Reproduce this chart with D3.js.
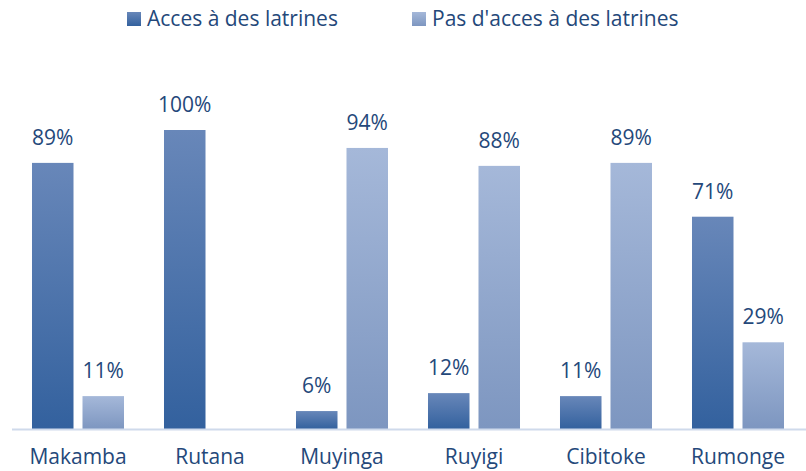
<!DOCTYPE html>
<html>
<head>
<meta charset="utf-8">
<script src="https://cdn.jsdelivr.net/npm/d3@7"></script>
<style>
  body { margin: 0; background: #fff; }
  text { font-family: "Open Sans", sans-serif; fill: #24487a; }
</style>
</head>
<body>
<svg id="chart" width="806" height="471"></svg>
<script>
var provinces = ["Makamba", "Rutana", "Muyinga", "Ruyigi", "Cibitoke", "Rumonge"];
var series = ["Acces à des latrines", "Pas d'acces à des latrines"];
var acces = [89, 100, 6, 12, 11, 71];
var pasAcces = [11, null, 94, 88, 89, 29];

var width = 806, height = 471;
var svg = d3.select("#chart");

// gradients, one per series (top lighter, bottom darker)
var defs = svg.append("defs");
var grads = [["g0", "#6887b9", "#33619e"], ["g1", "#a5b8d9", "#7d96c0"]];
grads.forEach(function(g) {
  var lg = defs.append("linearGradient").attr("id", g[0])
      .attr("x1", 0).attr("y1", 0).attr("x2", 0).attr("y2", 1);
  lg.append("stop").attr("offset", "0%").attr("stop-color", g[1]);
  lg.append("stop").attr("offset", "100%").attr("stop-color", g[2]);
});

var x0 = d3.scaleBand().domain(provinces).range([12, 804])
    .paddingInner(0.303).paddingOuter(0.1515);
var x1 = d3.scaleBand().domain([0, 1]).range([0, x0.bandwidth()])
    .paddingInner(0.178);
var y = d3.scaleLinear().domain([0, 100]).range([429, 130]);

var rows = provinces.map(function(p, i) {
  return {name: p, vals: [acces[i], pasAcces[i]]};
});

var group = svg.selectAll("g.cat")
    .data(rows)
  .enter().append("g")
    .attr("class", "cat")
    .attr("transform", function(d) { return "translate(" + x0(d.name) + ",0)"; });

var cells = group.selectAll("g.bar")
    .data(function(d) { return d.vals.map(function(v, k) { return {k: k, v: v}; }); })
  .enter().append("g")
    .filter(function(d) { return d.v != null; });

cells.append("rect")
    .attr("x", function(d) { return x1(d.k); })
    .attr("y", function(d) { return y(d.v); })
    .attr("width", x1.bandwidth())
    .attr("height", function(d) { return y(0) - y(d.v); })
    .attr("fill", function(d) { return "url(#g" + d.k + ")"; });

cells.append("text")
    .attr("x", function(d) { return x1(d.k) + x1.bandwidth() / 2; })
    .attr("y", function(d) { return y(d.v) - 18; })
    .attr("text-anchor", "middle")
    .style("font-size", "21px")
    .text(function(d) { return d.v + "%"; });

// baseline
svg.append("line")
    .attr("x1", 12).attr("x2", 806)
    .attr("y1", y(0) + 0.5).attr("y2", y(0) + 0.5)
    .attr("stroke", "#cfdaeb").attr("stroke-width", 2);

// category labels (kept a bit up so descenders stay inside)
svg.selectAll("text.cat")
    .data(provinces)
  .enter().append("text")
    .attr("class", "cat")
    .attr("x", function(d) { return x0(d) + x0.bandwidth() / 2; })
    .attr("y", 464)
    .attr("text-anchor", "middle")
    .style("font-size", "21px")
    .text(function(d) { return d; });

// legend
var legX = [127, 412];
var leg = svg.selectAll("g.leg")
    .data(series)
  .enter().append("g")
    .attr("transform", function(d, i) { return "translate(" + legX[i] + ",0)"; });
leg.append("rect")
    .attr("x", 0).attr("y", 12).attr("width", 14).attr("height", 14)
    .attr("fill", function(d, i) { return "url(#g" + i + ")"; });
leg.append("text")
    .attr("x", 20).attr("y", 26)
    .style("font-size", "21px")
    .text(function(d) { return d; });
</script>
</body>
</html>
